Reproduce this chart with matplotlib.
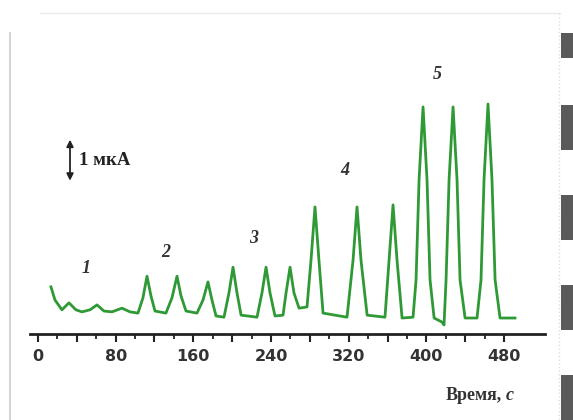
import numpy as np
import matplotlib.pyplot as plt
from matplotlib.patches import Rectangle
from matplotlib.lines import Line2D

# trace: time (s) and current (uA above baseline)
time_s = [13.4, 17.5, 24.7, 31.9, 39.1, 45.3, 53.6, 60.8, 68.0, 76.2, 86.5, 94.8, 103.0,
          108.1, 112.3, 116.4, 120.5, 131.8, 138.0, 143.2, 147.3, 152.5, 163.8,
          170.0, 175.1, 179.2, 183.4, 191.6, 196.7, 200.9, 205.0, 209.2,
          225.6, 230.7, 234.9, 239.0, 244.1, 252.4, 255.5, 259.6, 263.7, 268.9,
          277.1, 281.2, 285.3, 289.4, 293.6, 318.3, 324.5, 328.6, 332.7, 339.0,
          357.4, 361.6, 365.7, 369.8, 375.0, 386.3, 389.4, 392.5, 396.6, 400.7,
          403.8, 408.0, 416.2, 418.2, 420.3, 423.4, 427.5, 431.6, 434.7, 439.9,
          452.2, 456.3, 459.4, 463.5, 467.6, 470.8, 475.9, 491.3]
current_uA = [0.76, 0.44, 0.20, 0.37, 0.20, 0.15, 0.20, 0.32, 0.17, 0.15, 0.24, 0.15, 0.12,
              0.49, 1.02, 0.54, 0.17, 0.12, 0.49, 1.02, 0.54, 0.17, 0.12,
              0.44, 0.88, 0.44, 0.05, 0.02, 0.61, 1.24, 0.61, 0.07,
              0.02, 0.61, 1.24, 0.61, 0.05, 0.07, 0.61, 1.24, 0.61, 0.24,
              0.27, 1.41, 2.71, 1.41, 0.12, 0.02, 1.41, 2.71, 1.41, 0.07,
              0.02, 1.41, 2.76, 1.41, 0.00, 0.02, 0.93, 3.37, 5.15, 3.37,
              0.93, 0.00, -0.10, -0.17, 0.93, 3.37, 5.15, 3.37, 0.93, 0.00,
              0.00, 0.93, 3.37, 5.22, 3.37, 0.93, 0.00, 0.00]

group_labels = ["1", "2", "3", "4", "5"]
group_x = [49.4, 131.8, 222.5, 316.2, 411.0]
group_y = [1.22, 1.59, 1.95, 3.61, 5.93]

tick_major = np.arange(0, 481, 40)
tick_minor = np.arange(0, 481, 20)
tick_labels = [str(t) if t % 80 == 0 else "" for t in tick_major]

fig = plt.figure(figsize=(5.73, 4.2), dpi=100)
W, H = 573, 420

# page decorations around the scanned figure
deco = fig.add_axes([0, 0, 1, 1])
deco.set_xlim(0, W)
deco.set_ylim(H, 0)
deco.axis("off")
deco.add_line(Line2D([10, 10], [33, 420], color="#cccccc", lw=1.2))
deco.add_line(Line2D([40, 560], [13, 13], color="#ebebeb", lw=1))
deco.add_line(Line2D([559, 559], [13, 420], color="#dddddd", lw=1, ls=":"))
for y0, y1 in [(33, 58), (105, 150), (195, 240), (285, 330), (375, 420)]:
    deco.add_patch(Rectangle((561, y0), 12, y1 - y0, color="#5a5a5a", lw=0))

ax = fig.add_axes([30 / W, (H - 334) / H, (545 - 30) / W, (334 - 20) / H])
ax.set_xlim(-8.2, 522.2)
ax.set_ylim(-0.39, 7.27)
ax.patch.set_alpha(0)

ax.plot(time_s, current_uA, color="#2f9a35", lw=2, solid_joinstyle="round")

for s in ["top", "right", "left"]:
    ax.spines[s].set_visible(False)
ax.spines["bottom"].set_linewidth(2)
ax.spines["bottom"].set_color("#222222")
ax.set_yticks([])
ax.set_xticks(tick_major)
ax.set_xticklabels(tick_labels)
ax.set_xticks(tick_minor, minor=True)
ax.tick_params(axis="x", which="major", direction="out", length=6, width=1.5,
               color="#222222", pad=5)
ax.tick_params(axis="x", which="minor", direction="out", length=3.5, width=1.3,
               color="#222222")
for lab in ax.get_xticklabels():
    lab.set_fontfamily(["Liberation Sans Narrow", "DejaVu Sans"])
    lab.set_fontweight("bold")
    lab.set_fontsize(11.5)
    lab.set_color("#333333")

for lab, x, y in zip(group_labels, group_x, group_y):
    ax.text(x, y, lab, fontfamily="Liberation Serif", fontstyle="italic",
            fontweight="bold", fontsize=13, color="#333333", ha="center", va="center")

# 1 uA scale bar
ax.annotate("", xy=(33, 3.35), xytext=(33, 4.35),
            arrowprops=dict(arrowstyle="<|-|>", color="#222222", lw=1.3,
                            mutation_scale=10, shrinkA=0, shrinkB=0))
ax.text(42, 3.85, "1 мкА", fontfamily="Liberation Serif", fontweight="bold",
        fontsize=13.5, color="#222222", ha="left", va="center")

t1 = fig.text(446 / W, 1 - 395 / H, "Время,", fontfamily="Liberation Serif",
              fontweight="bold", fontsize=13, color="#333333", ha="left", va="center")
fig.canvas.draw()
bb = t1.get_window_extent()
fig.text((bb.x1 + 4) / W, 1 - 395 / H, "с", fontfamily="Liberation Serif",
         fontweight="bold", fontstyle="italic", fontsize=13, color="#333333",
         ha="left", va="center")

fig.savefig("out.png", dpi=100)
